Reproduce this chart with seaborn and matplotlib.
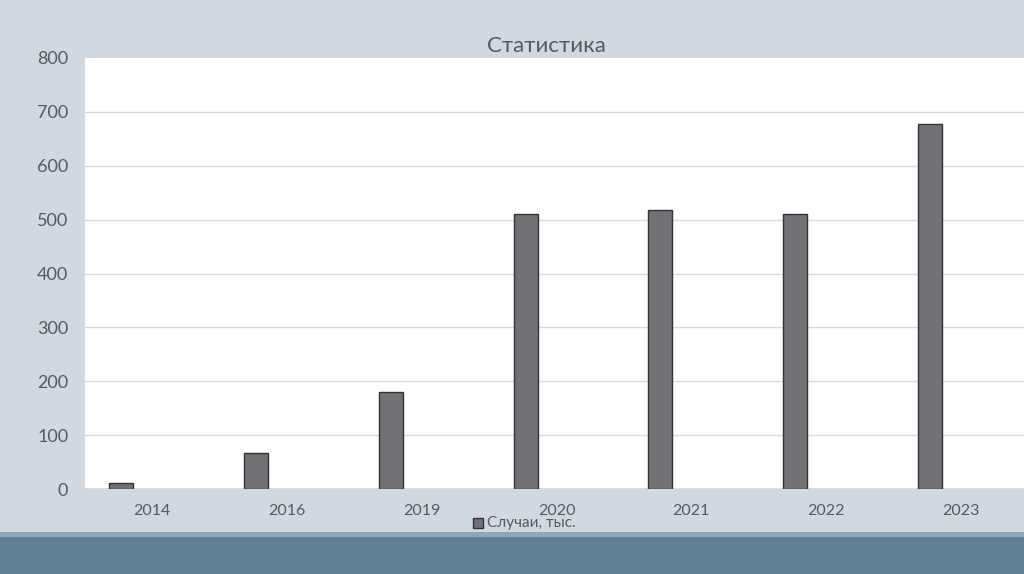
import numpy as np
import pandas as pd
import matplotlib
matplotlib.use('Agg')
import matplotlib.pyplot as plt
from matplotlib.patches import Rectangle
import seaborn as sns

years = ['2014', '2016', '2019', '2020', '2021', '2022', '2023']
cases = [11, 67, 180, 510, 518, 510, 677]
series_name = 'Случаи, тыс.'
y_ticks = [0, 100, 200, 300, 400, 500, 600, 700, 800]

bg = '#d0d9e0'
bar_color = '#727076'
text_color = '#595959'

sns.set_style('white')
plt.rcParams['font.family'] = ['Lato', 'DejaVu Sans']

df = pd.DataFrame({
    'year': years * 2,
    'value': cases + [np.nan] * len(years),
    'series': [series_name] * len(years) + ['_empty'] * len(years),
})

fig = plt.figure(figsize=(10.24, 5.74), dpi=100, facecolor=bg)
# plot area runs past the right edge of the slide, as in the original
ax = fig.add_axes([85 / 1024, 1 - 489 / 574, 943 / 1024, 431 / 574])
ax.set_facecolor('white')

# Excel-style clustered bar: real series on the left, empty second slot
sns.barplot(data=df, x='year', y='value', hue='series',
            hue_order=[series_name, '_empty'], order=years,
            dodge=True, width=0.92, gap=0.613,
            palette=[bar_color, bar_color], edgecolor='#333333',
            linewidth=1.0, legend=False, ax=ax, errorbar=None)

ax.set_ylim(0, 800)
ax.set_yticks(y_ticks)
ax.set_xlim(-0.5, len(years) - 0.5)
for y in y_ticks[1:-1]:
    ax.axhline(y, color='#d9d9d9', linewidth=1, zorder=0)
ax.axhline(0, color='#d9d9d9', linewidth=1.2, zorder=0)

for s in ax.spines.values():
    s.set_visible(False)
ax.tick_params(axis='y', length=0, pad=12, labelsize=13, labelcolor=text_color)
ax.tick_params(axis='x', length=0, pad=11, labelsize=11.5, labelcolor=text_color)
ax.set_xlabel('')
ax.set_ylabel('')

fig.text(546 / 1024, 1 - 46 / 574, 'Статистика', ha='center', va='center',
         fontsize=16, color=text_color)

# legend below the axis labels
fig.patches.append(Rectangle((473 / 1024, 1 - 528 / 574), 10 / 1024, 10 / 574,
                             transform=fig.transFigure, facecolor=bar_color,
                             edgecolor='#333333', linewidth=1))
fig.text(487 / 1024, 1 - 523 / 574, series_name, ha='left', va='center',
         fontsize=11, color=text_color)

# bottom band
fig.patches.append(Rectangle((0, 0), 1, 42 / 574, transform=fig.transFigure,
                             facecolor='#8ea8ba', edgecolor='none', zorder=-1))
fig.patches.append(Rectangle((0, 0), 1, 37 / 574, transform=fig.transFigure,
                             facecolor='#607f95', edgecolor='none', zorder=-1))

fig.savefig('out.png', dpi=100, facecolor=bg)
